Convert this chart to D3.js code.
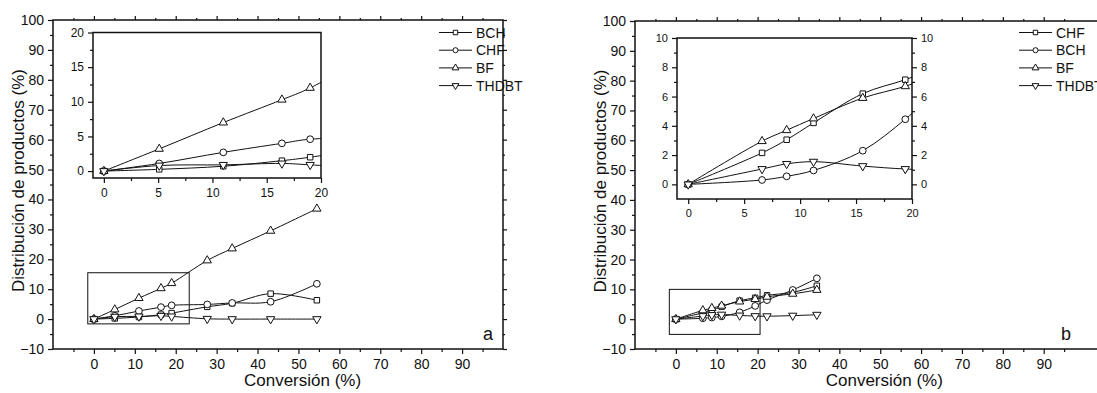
<!DOCTYPE html>
<html>
<head>
<meta charset="utf-8">
<style>
  body { margin: 0; background: #fff; }
  text { font-family: "Liberation Sans", Arial, sans-serif; fill: #111; }
  .frame { fill: none; stroke: #111; stroke-width: 1.5px; }
  .tick line { stroke: #111; stroke-width: 1.2px; }
  .data { fill: none; stroke: #111; stroke-width: 1px; }
  .mark { fill: #fff; stroke: #111; stroke-width: 1px; }
</style>
<script src="https://d3js.org/d3.v7.min.js"></script>
</head>
<body>
<div id="chart"></div>
<script>
// ---- data ----
// panel a
var convA  = [0, 5.1, 11, 16.4, 19, 27.7, 33.8, 43.2, 54.5];
var bchA   = [0, 0.25, 0.7, 1.5, 2.0, 4.1, 5.3, 8.5, 6.3];
var chfA   = [0, 1.1, 2.7, 4.0, 4.6, 4.9, 5.4, 5.8, 11.8];
var bfA    = [0, 3.2, 7.0, 10.3, 12.0, 19.6, 23.6, 29.5, 36.9];
var thdbtA = [0, 0.8, 0.9, 1.1, 0.9, 0.1, 0, 0, 0];
// panel b
var convB  = [0, 6.6, 8.8, 11.2, 15.6, 19.4, 22.3, 28.6, 34.5];
var chfB   = [0, 2.15, 3.05, 4.2, 6.2, 7.15, 8.0, 9.0, 11.2];
var bchB   = [0, 0.3, 0.55, 0.95, 2.3, 4.45, 6.4, 9.8, 13.7];
var bfB    = [0, 2.95, 3.7, 4.5, 5.9, 6.7, 7.5, 8.5, 9.8];
var thdbtB = [0, 1.05, 1.4, 1.55, 1.25, 1.05, 1.0, 1.2, 1.5];

var legendA = ["BCH", "CHF", "BF", "THDBT"];
var legendB = ["CHF", "BCH", "BF", "THDBT"];
var mainXTicks = [0, 10, 20, 30, 40, 50, 60, 70, 80, 90];
var mainYTicks = [-10, 0, 10, 20, 30, 40, 50, 60, 70, 80, 90, 100];

var width = 1097, height = 393;
var svg = d3.select("#chart").append("svg")
    .attr("width", width).attr("height", height);

var symbols = {
  square: d3.symbol().type(d3.symbolSquare).size(30),
  circle: d3.symbol().type(d3.symbolCircle).size(36),
  up: d3.symbol().type(d3.symbolTriangle).size(30),
  down: d3.symbol().type(d3.symbolTriangle).size(30)
};

function series(conv, vals, shape) {
  return { pts: conv.map(function(c, i) { return [c, vals[i]]; }), shape: shape };
}

var panels = [
  {
    id: "a",
    plot: {x0: 53, x1: 503, y0: 20, y1: 349}, xDom: [-10, 100],
    box: {x: [-1.5, 23.3], y: [-1.6, 15.5]},
    inset: {x0: 93, x1: 321, y0: 32.5, y1: 178, xDom: [-1, 20], yDom: [-1, 20],
            yMajor: [0, 5, 10, 15, 20], yMinor: [2.5, 7.5, 12.5, 17.5], rightLabels: false, font: 12},
    series: [series(convA, bchA, "square"), series(convA, chfA, "circle"),
             series(convA, bfA, "up"), series(convA, thdbtA, "down")],
    legend: legendA, legendShapes: ["square", "circle", "up", "down"], legendX: 439,
    letterX: 483
  },
  {
    id: "b",
    plot: {x0: 635, x1: 1105, y0: 21, y1: 349}, xDom: [-10, 105],
    box: {x: [-1.6, 20.6], y: [-5.1, 10]},
    inset: {x0: 677, x1: 912, y0: 38, y1: 199, xDom: [-1, 20], yDom: [-1, 10],
            yMajor: [0, 2, 4, 6, 8, 10], yMinor: [1, 3, 5, 7, 9], rightLabels: true, font: 11},
    series: [series(convB, chfB, "square"), series(convB, bchB, "circle"),
             series(convB, bfB, "up"), series(convB, thdbtB, "down")],
    legend: legendB, legendShapes: ["square", "circle", "up", "down"], legendX: 1019,
    letterX: 1061
  }
];

function drawMarks(g, s, x, y) {
  g.selectAll(null).data(s.pts).enter().append("path")
    .attr("class", "mark")
    .attr("d", symbols[s.shape])
    .attr("transform", function(d) {
      return "translate(" + x(d[0]) + "," + y(d[1]) + ")" + (s.shape === "down" ? " rotate(180)" : "");
    });
}

function ticks(g, axis, cls) {
  g.call(axis);
  g.select(".domain").remove();
  g.selectAll("text").style("font-family", "Liberation Sans, Arial, sans-serif").attr("fill", "#111");
}

panels.forEach(function(p, pi) {
  var P = p.plot;
  var x = d3.scaleLinear().domain(p.xDom).range([P.x0, P.x1]);
  var y = d3.scaleLinear().domain([-10, 100]).range([P.y1, P.y0]);
  var g = svg.append("g");

  var clipId = "clip" + p.id;
  svg.append("clipPath").attr("id", clipId).append("rect")
    .attr("x", P.x0).attr("y", P.y0).attr("width", P.x1 - P.x0).attr("height", P.y1 - P.y0);

  var minorX = d3.range(-5, 100, 10);
  var minorY = d3.range(-5, 100, 10);

  // bottom
  ticks(g.append("g").attr("transform", "translate(0," + P.y1 + ")"),
    d3.axisBottom(x).tickValues(mainXTicks).tickSize(5).tickPadding(5));
  ticks(g.append("g").attr("transform", "translate(0," + P.y1 + ")"),
    d3.axisBottom(x).tickValues(minorX).tickSize(3).tickFormat(""));
  // top
  ticks(g.append("g").attr("transform", "translate(0," + P.y0 + ")"),
    d3.axisTop(x).tickValues(mainXTicks).tickSize(4).tickFormat(""));
  ticks(g.append("g").attr("transform", "translate(0," + P.y0 + ")"),
    d3.axisTop(x).tickValues(minorX).tickSize(2).tickFormat(""));
  // left
  ticks(g.append("g").attr("transform", "translate(" + P.x0 + ",0)"),
    d3.axisLeft(y).tickValues(mainYTicks).tickSize(5).tickPadding(4));
  ticks(g.append("g").attr("transform", "translate(" + P.x0 + ",0)"),
    d3.axisLeft(y).tickValues(minorY).tickSize(3).tickFormat(""));
  // right
  ticks(g.append("g").attr("transform", "translate(" + P.x1 + ",0)"),
    d3.axisRight(y).tickValues(mainYTicks).tickSize(4).tickFormat(""));
  ticks(g.append("g").attr("transform", "translate(" + P.x1 + ",0)"),
    d3.axisRight(y).tickValues(minorY).tickSize(2).tickFormat(""));

  g.selectAll(".tick text").attr("font-size", 14);

  g.append("rect").attr("class", "frame")
    .attr("x", P.x0).attr("y", P.y0).attr("width", P.x1 - P.x0).attr("height", P.y1 - P.y0);

  // zoom box
  g.append("rect")
    .attr("x", x(p.box.x[0])).attr("y", y(p.box.y[1]))
    .attr("width", x(p.box.x[1]) - x(p.box.x[0]))
    .attr("height", y(p.box.y[0]) - y(p.box.y[1]))
    .attr("fill", "none").attr("stroke", "#111").attr("stroke-width", 1);

  // main data
  var line = d3.line().x(function(d) { return x(d[0]); }).y(function(d) { return y(d[1]); })
    .curve(d3.curveCatmullRom);
  var dg = g.append("g").attr("clip-path", "url(#" + clipId + ")");
  p.series.forEach(function(s) {
    dg.append("path").attr("class", "data").attr("d", line(s.pts));
  });
  p.series.forEach(function(s) { drawMarks(dg, s, x, y); });

  // axis titles
  g.append("text")
    .attr("transform", "translate(" + (P.x0 - 29) + "," + ((P.y0 + P.y1) / 2 - 4) + ") rotate(-90)")
    .attr("text-anchor", "middle").attr("font-size", 17)
    .text("Distribución de productos (%)");
  g.append("text")
    .attr("x", x(51)).attr("y", 386)
    .attr("text-anchor", "middle").attr("font-size", 17)
    .text("Conversión (%)");
  g.append("text").attr("x", p.letterX).attr("y", 340).attr("font-size", 18).text(p.id);

  // inset
  var I = p.inset;
  var ix = d3.scaleLinear().domain(I.xDom).range([I.x0, I.x1]);
  var iy = d3.scaleLinear().domain(I.yDom).range([I.y1, I.y0]);
  var ig = svg.append("g");
  ig.append("rect").attr("x", I.x0).attr("y", I.y0)
    .attr("width", I.x1 - I.x0).attr("height", I.y1 - I.y0).attr("fill", "#fff");
  var iclip = "iclip" + p.id;
  svg.append("clipPath").attr("id", iclip).append("rect")
    .attr("x", I.x0).attr("y", I.y0).attr("width", I.x1 - I.x0).attr("height", I.y1 - I.y0);

  ticks(ig.append("g").attr("transform", "translate(0," + I.y1 + ")"),
    d3.axisBottom(ix).tickValues([0, 5, 10, 15, 20]).tickSize(5).tickPadding(5));
  ticks(ig.append("g").attr("transform", "translate(0," + I.y1 + ")"),
    d3.axisBottom(ix).tickValues([2.5, 7.5, 12.5, 17.5]).tickSize(3).tickFormat(""));
  ticks(ig.append("g").attr("transform", "translate(" + I.x0 + ",0)"),
    d3.axisLeft(iy).tickValues(I.yMajor).tickSize(5).tickPadding(4));
  ticks(ig.append("g").attr("transform", "translate(" + I.x0 + ",0)"),
    d3.axisLeft(iy).tickValues(I.yMinor).tickSize(3).tickFormat(""));
  if (I.rightLabels) {
    ticks(ig.append("g").attr("transform", "translate(" + I.x1 + ",0)"),
      d3.axisRight(iy).tickValues(I.yMajor).tickSize(5).tickPadding(4));
    ticks(ig.append("g").attr("transform", "translate(" + I.x1 + ",0)"),
      d3.axisRight(iy).tickValues(I.yMinor).tickSize(3).tickFormat(""));
  }
  ig.selectAll(".tick text").attr("font-size", I.font);
  ig.append("rect").attr("class", "frame")
    .attr("x", I.x0).attr("y", I.y0).attr("width", I.x1 - I.x0).attr("height", I.y1 - I.y0);

  var iline = d3.line().x(function(d) { return ix(d[0]); }).y(function(d) { return iy(d[1]); })
    .curve(d3.curveCatmullRom);
  var idg = ig.append("g").attr("clip-path", "url(#" + iclip + ")");
  p.series.forEach(function(s) {
    idg.append("path").attr("class", "data").attr("d", iline(s.pts));
  });
  p.series.forEach(function(s) {
    drawMarks(idg, {pts: s.pts.filter(function(d) { return d[0] <= 20; }), shape: s.shape}, ix, iy);
  });

  // legend
  var lg = svg.append("g");
  p.legend.forEach(function(name, i) {
    var ly = 32.5 + i * 17.7;
    lg.append("line").attr("x1", p.legendX).attr("x2", p.legendX + 33)
      .attr("y1", ly).attr("y2", ly).attr("stroke", "#111").attr("stroke-width", 1);
    lg.append("path").attr("class", "mark")
      .attr("d", d3.symbol().type(p.legendShapes[i] === "circle" ? d3.symbolCircle :
                 p.legendShapes[i] === "square" ? d3.symbolSquare : d3.symbolTriangle).size(20))
      .attr("transform", "translate(" + (p.legendX + 16.5) + "," + ly + ")" +
            (p.legendShapes[i] === "down" ? " rotate(180)" : ""));
    lg.append("text").attr("x", p.legendX + 37).attr("y", ly + 5)
      .attr("font-size", 14).text(name);
  });
});
</script>
</body>
</html>
